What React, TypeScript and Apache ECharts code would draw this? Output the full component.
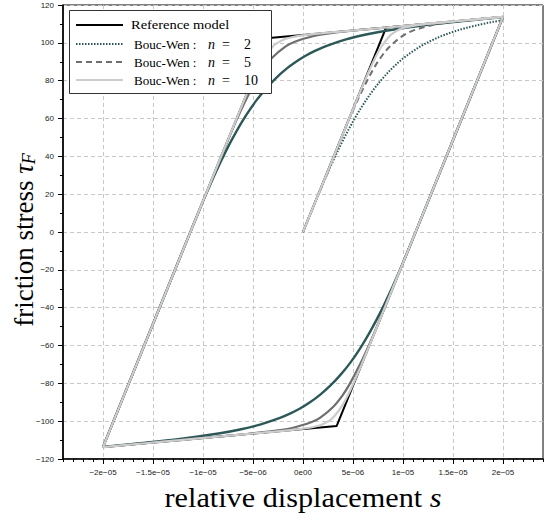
import React, { useEffect, useRef } from "react";
import * as echarts from "echarts";

// x values are in micro-units (1e-6), y values are friction stress
const MICRO = 1e-6;

const xTickValues = [-2e-5, -1.5e-5, -1e-5, -5e-6, 0, 5e-6, 1e-5, 1.5e-5, 2e-5];
const xTickLabels = ["\u22122e\u221205", "\u22121.5e\u221205", "\u22121e\u221205", "\u22125e\u221206", "0e00", "5e\u221206", "1e\u221205", "1.5e\u221205", "2e\u221205"];

const refModel = [[0, 0], [8.31, 108.1], [20, 113.7], [3.37, -102.5], [-20, -113.7], [-3.37, 102.5], [20, 113.7]];

const bw2Initial = [[0, 0], [1, 12.9], [2, 25.5], [3, 37.5], [4, 48.5], [5, 58.4], [6, 67.2], [7, 74.9], [8, 81.4], [9, 87.0], [10, 91.7], [11, 95.6], [12, 98.9], [13, 101.6], [14, 103.9], [15, 105.8], [16, 107.4], [17, 108.8], [18, 110.0], [19, 111.1], [20, 112.0]];
const bw2Upper = [[-20, -113.6], [-11.7, -5.6], [-10.7, 7.3], [-9.7, 19.9], [-8.7, 31.9], [-7.7, 42.9], [-6.7, 52.8], [-5.7, 61.6], [-4.7, 69.3], [-3.7, 75.8], [-2.7, 81.4], [-1.7, 86.1], [-0.7, 90.0], [0.3, 93.3], [1.3, 96.0], [2.3, 98.3], [4.3, 101.8], [6.3, 104.4], [8.3, 106.4], [12.3, 109.4], [16.3, 111.7], [20, 113.6]];
const bw2Lower = [[20, 113.6], [11.7, 5.6], [10.7, -7.3], [9.7, -19.9], [8.7, -31.9], [7.7, -42.9], [6.7, -52.8], [5.7, -61.6], [4.7, -69.3], [3.7, -75.8], [2.7, -81.4], [1.7, -86.1], [0.7, -90.0], [-0.3, -93.3], [-1.3, -96.0], [-2.3, -98.3], [-4.3, -101.8], [-6.3, -104.4], [-8.3, -106.4], [-12.3, -109.4], [-16.3, -111.7], [-20, -113.6]];

const bw5Initial = [[0, 0], [2.49, 32.4], [4.18, 54.1], [5.05, 64.9], [6.0, 75.7], [7.1, 86.7], [7.77, 92.2], [8.63, 97.8], [9.96, 103.7], [10.88, 106.2], [12.77, 109.2], [13.94, 110.3], [16.63, 112.0], [20, 113.7]];
const bw5Upper = [[-20, -113.7], [-11.69, -5.6], [-9.2, 26.8], [-7.51, 48.5], [-6.64, 59.3], [-5.69, 70.1], [-4.59, 81.1], [-3.92, 86.6], [-3.06, 92.2], [-1.73, 98.1], [-0.81, 100.6], [1.08, 103.6], [2.25, 104.7], [4.94, 106.4], [8.31, 108.1], [12, 109.9], [16, 111.8], [20, 113.7]];
const bw5Lower = [[20, 113.7], [11.69, 5.6], [9.2, -26.8], [7.51, -48.5], [6.64, -59.3], [5.69, -70.1], [4.59, -81.1], [3.92, -86.6], [3.06, -92.2], [1.73, -98.1], [0.81, -100.6], [-1.08, -103.6], [-2.25, -104.7], [-4.94, -106.4], [-8.31, -108.1], [-12, -109.9], [-16, -111.8], [-20, -113.7]];

const bw10Initial = [[0, 0], [4.16, 54.0], [5.83, 75.7], [6.72, 86.5], [7.2, 91.9], [7.77, 97.4], [8.56, 103.0], [9.06, 105.3], [10.05, 107.9], [12.0, 109.8], [16, 111.8], [20, 113.7]];
const bw10Upper = [[-20, -113.7], [-11.69, -5.6], [-7.53, 48.4], [-5.86, 70.1], [-4.97, 80.9], [-4.49, 86.3], [-3.92, 91.8], [-3.13, 97.4], [-2.63, 99.7], [-1.64, 102.3], [0.31, 104.2], [4.31, 106.2], [8.31, 108.1], [12, 109.9], [16, 111.8], [20, 113.7]];
const bw10Lower = [[20, 113.7], [11.69, 5.6], [7.53, -48.4], [5.86, -70.1], [4.97, -80.9], [4.49, -86.3], [3.92, -91.8], [3.13, -97.4], [2.63, -99.7], [1.64, -102.3], [-0.31, -104.2], [-4.31, -106.2], [-8.31, -108.1], [-12, -109.9], [-16, -111.8], [-20, -113.7]];

const legendNames = ["Reference model", "Bouc-Wen :", "Bouc-Wen :", "Bouc-Wen :"];
const legendN = ["", "2", "5", "10"];

const C_REF = "#000000";
const C_N2 = "#2d5858";
const C_N5 = "#6e6e6e";
const C_N10 = "#cccccc";

const toXY = (pts: number[][]) => pts.map((p) => [p[0] * MICRO, p[1]]);

function lineSeries(name: string, pts: number[][], color: string, width: number, type: any, smooth: boolean) {
  return {
    name,
    type: "line",
    data: toXY(pts),
    showSymbol: false,
    symbol: "none",
    smooth: smooth ? 0.35 : false,
    lineStyle: { color, width, type },
    silent: true,
    z: 2,
  };
}

const minorX: number[] = [];
for (let i = -24; i <= 24; i++) minorX.push(i * MICRO);

export default function App() {
  const ref = useRef<HTMLDivElement>(null);
  useEffect(() => {
    const chart = echarts.init(ref.current!, null, { renderer: "svg" });
    const serif = "Liberation Serif";
    const sans = "Liberation Sans";
    const Z = 100;
    const legendY = [25, 44, 62, 80];
    const legendLines: any[] = [
      { type: "line", z: Z + 1, shape: { x1: 76, y1: legendY[0], x2: 123, y2: legendY[0] }, style: { stroke: C_REF, lineWidth: 2 } },
      { type: "line", z: Z + 1, shape: { x1: 76, y1: legendY[1], x2: 123, y2: legendY[1] }, style: { stroke: C_N2, lineWidth: 2, lineDash: [1.5, 1.5] } },
      { type: "line", z: Z + 1, shape: { x1: 76, y1: legendY[2], x2: 123, y2: legendY[2] }, style: { stroke: C_N5, lineWidth: 2, lineDash: [6, 4] } },
      { type: "line", z: Z + 1, shape: { x1: 76, y1: legendY[3], x2: 123, y2: legendY[3] }, style: { stroke: C_N10, lineWidth: 2 } },
    ];
    const txt = (x: number, y: number, text: string, size: number, italic: boolean, scaleX = 1) => ({
      type: "text",
      z: Z + 1,
      x,
      y,
      scaleX,
      style: { text, fontSize: size, fontFamily: serif, fontStyle: italic ? "italic" : "normal", fill: "#000", verticalAlign: "middle", align: "left" },
    });
    const legendTexts: any[] = [];
    legendNames.forEach((nm, i) => {
      if (i === 0) legendTexts.push(txt(131, legendY[i], nm, 13.5, false, 1.07));
      else {
        legendTexts.push(txt(134, legendY[i], nm, 13.5, false, 0.97));
        legendTexts.push(txt(208, legendY[i], "n", 14, true));
        legendTexts.push(txt(222, legendY[i], "=", 14, false));
        legendTexts.push(txt(244, legendY[i], legendN[i], 14, false));
      }
    });

    const option: any = {
      animation: false,
      backgroundColor: "#ffffff",
      grid: { left: 63, top: 5, width: 480, height: 454, show: true, borderColor: "#000", borderWidth: 1, outerBoundsMode: "none", containLabel: false },
      xAxis: [
        {
          type: "value",
          min: -2.4e-5,
          max: 2.4e-5,
          axisLine: { onZero: false, lineStyle: { color: "#000", width: 1.6 } },
          axisTick: { show: true, length: 5, customValues: xTickValues, lineStyle: { color: "#000", width: 1 } },
          axisLabel: {
            customValues: xTickValues,
            margin: 9,
            fontSize: 8,
            fontFamily: sans,
            color: "#222",
            formatter: (v: number) => {
              const i = xTickValues.findIndex((t) => Math.abs(t - v) < 1e-9);
              return i >= 0 ? xTickLabels[i] : "";
            },
          },
          splitLine: { show: true, lineStyle: { color: "#c8c8c8", width: 1, type: [4, 3] } },
        },
        {
          type: "value",
          min: -2.4e-5,
          max: 2.4e-5,
          position: "bottom",
          axisLine: { show: false, onZero: false },
          axisTick: { show: true, length: 3, customValues: minorX, lineStyle: { color: "#000", width: 1 } },
          axisLabel: { show: false },
          splitLine: { show: false },
        },
      ],
      yAxis: {
        type: "value",
        min: -120,
        max: 120,
        interval: 20,
        axisLine: { show: true, onZero: false, lineStyle: { color: "#000", width: 1.6 } },
        axisTick: { show: true, length: 5, lineStyle: { color: "#000", width: 1 } },
        minorTick: { show: true, splitNumber: 2, length: 3, lineStyle: { color: "#000", width: 1 } },
        axisLabel: {
          margin: 9,
          fontSize: 8,
          fontFamily: sans,
          color: "#222",
          formatter: (v: number) => (v < 0 ? "\u2212" + Math.abs(v) : String(v)),
        },
        splitLine: { show: true, lineStyle: { color: "#c8c8c8", width: 1, type: [4, 3] } },
      },
      series: [
        lineSeries("Reference model", refModel, C_REF, 2, "solid", false),
        lineSeries("n2 initial", bw2Initial, C_N2, 2, [1.5, 1.5], true),
        lineSeries("n2 upper", bw2Upper, C_N2, 2.4, "solid", true),
        lineSeries("n2 lower", bw2Lower, C_N2, 2.4, "solid", true),
        lineSeries("n5 initial", bw5Initial, C_N5, 2, [6, 4], true),
        lineSeries("n5 upper", bw5Upper, C_N5, 2.2, "solid", true),
        lineSeries("n5 lower", bw5Lower, C_N5, 2.2, "solid", true),
        lineSeries("n10 initial", bw10Initial, C_N10, 2.2, "solid", true),
        lineSeries("n10 upper", bw10Upper, C_N10, 2.2, "solid", true),
        lineSeries("n10 lower", bw10Lower, C_N10, 2.2, "solid", true),
      ],
      graphic: [
        { type: "rect", z: Z, shape: { x: 69.5, y: 10.5, width: 202, height: 83 }, style: { fill: "#fff", stroke: "#333", lineWidth: 1 } },
        ...legendLines,
        ...legendTexts,
        {
          type: "text",
          z: Z,
          x: 303,
          y: 498,
          scaleX: 1.12,
          style: {
            text: "{r|relative displacement }{i|s}",
            fontSize: 27,
            fontFamily: serif,
            fill: "#000",
            align: "center",
            verticalAlign: "middle",
            rich: {
              r: { fontSize: 27, fontFamily: serif, fontStyle: "normal" },
              i: { fontStyle: "italic", fontSize: 27, fontFamily: serif },
            },
          },
        },
        {
          type: "text",
          z: Z,
          x: 24,
          y: 240,
          rotation: Math.PI / 2,
          style: {
            text: "{r|friction stress }{t|\u03c4}{s|F}",
            fontSize: 27,
            fontFamily: serif,
            fill: "#000",
            align: "center",
            verticalAlign: "middle",
            rich: {
              r: { fontSize: 27, fontFamily: serif, fontStyle: "normal" },
              t: { fontStyle: "italic", fontSize: 27, fontFamily: serif },
              s: { fontStyle: "italic", fontSize: 18, fontFamily: serif, verticalAlign: "bottom", padding: [8, 0, 0, 0] },
            },
          },
        },
      ],
    };
    chart.setOption(option);
    return () => chart.dispose();
  }, []);
  return <div ref={ref} style={{ position: "absolute", left: 0, top: 0, width: 546, height: 513, background: "#fff" }} />;
}
